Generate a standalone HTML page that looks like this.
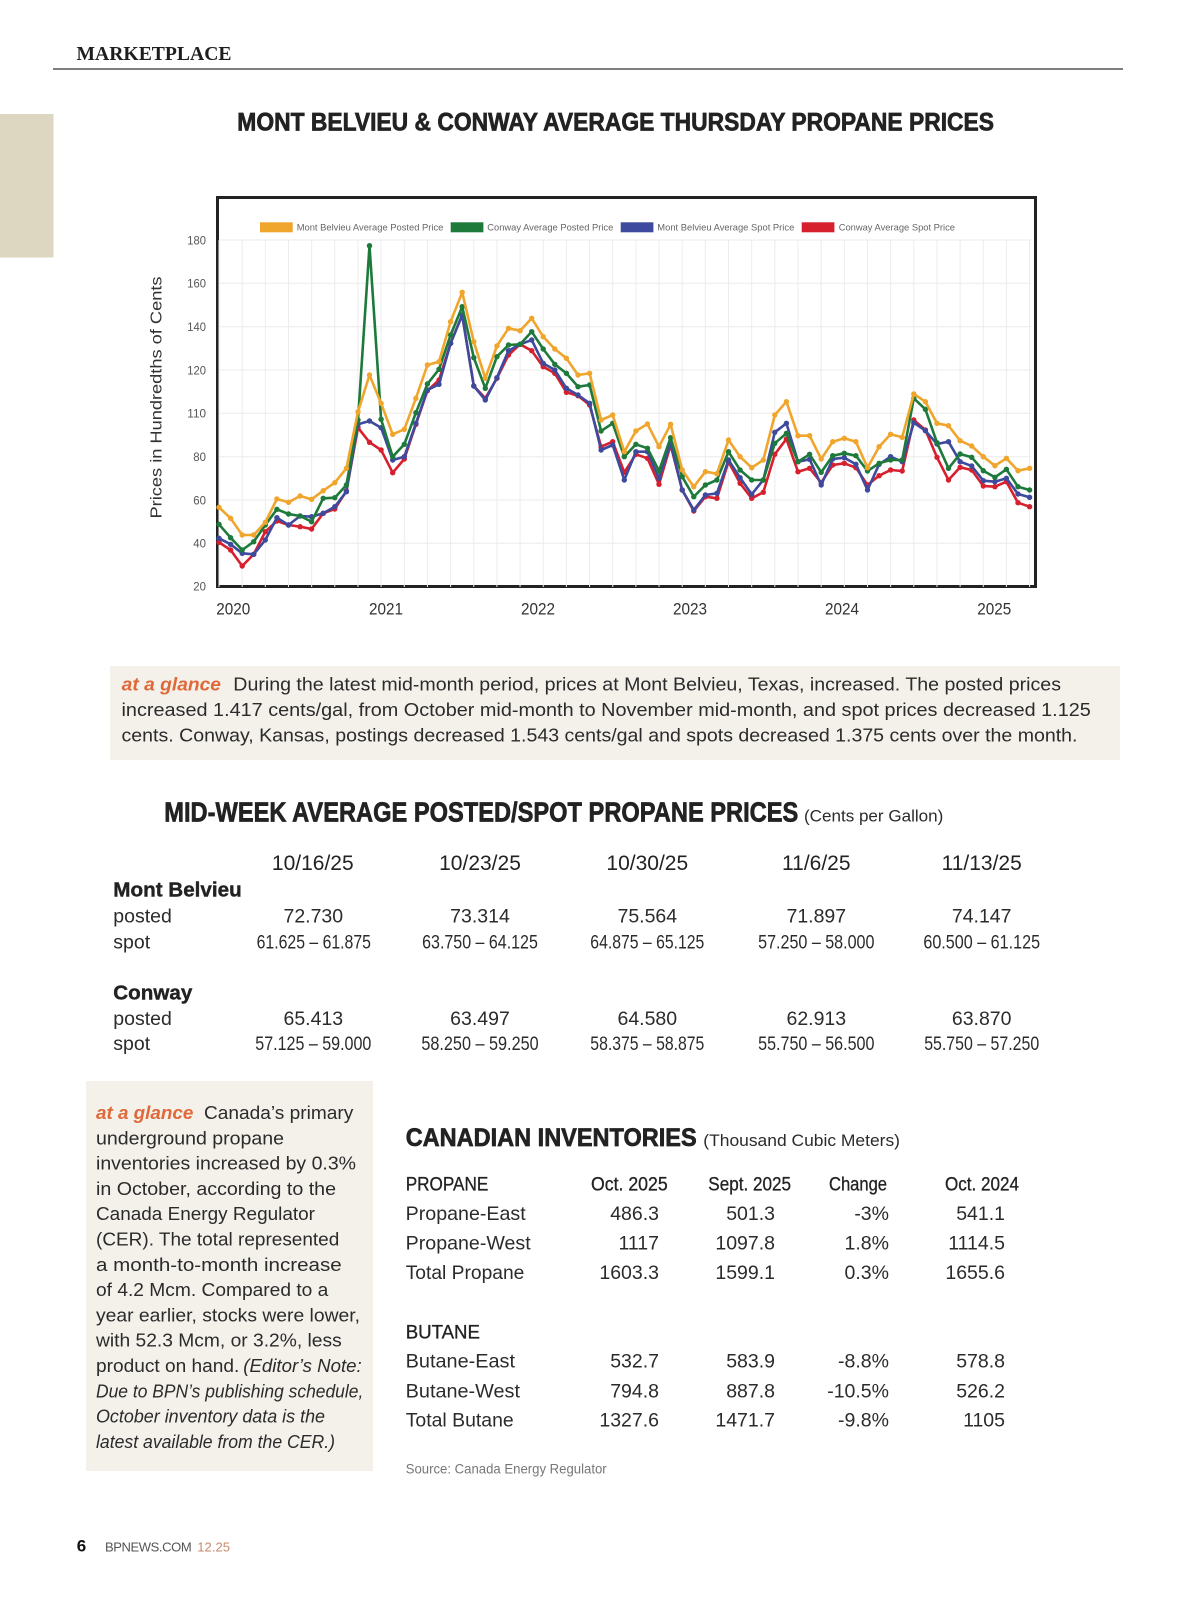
<!DOCTYPE html>
<html>
<head>
<meta charset="utf-8">
<style>
  html,body{margin:0;padding:0;background:#fff;}
  svg{display:block;}
  .s{font-family:"Liberation Sans",sans-serif;fill:#2b2b2b;}
  .b{font-family:"Liberation Sans",sans-serif;font-weight:bold;fill:#222;}
  .h{font-family:"Liberation Sans",sans-serif;font-weight:bold;fill:#222;stroke:#222;stroke-width:0.7;}
  .g{font-family:"Liberation Sans",sans-serif;font-weight:bold;font-style:italic;fill:#e0693a;}
  .i{font-family:"Liberation Sans",sans-serif;font-style:italic;fill:#2b2b2b;}
</style>
</head>
<body>
<svg width="1200" height="1598" viewBox="0 0 1200 1598" xmlns="http://www.w3.org/2000/svg">
  <defs>
    <marker id="mo" markerUnits="userSpaceOnUse" markerWidth="8" markerHeight="8" refX="4" refY="4"><circle cx="4" cy="4" r="2.7" fill="#f0a52c"/></marker>
    <marker id="mg" markerUnits="userSpaceOnUse" markerWidth="8" markerHeight="8" refX="4" refY="4"><circle cx="4" cy="4" r="2.7" fill="#1d7a3b"/></marker>
    <marker id="mb" markerUnits="userSpaceOnUse" markerWidth="8" markerHeight="8" refX="4" refY="4"><circle cx="4" cy="4" r="2.7" fill="#3d4a9e"/></marker>
    <marker id="mr" markerUnits="userSpaceOnUse" markerWidth="8" markerHeight="8" refX="4" refY="4"><circle cx="4" cy="4" r="2.7" fill="#d6202e"/></marker>
  </defs>
  <rect width="1200" height="1598" fill="#fff"/>

  <!-- Header -->
  <text x="76.5" y="60" font-family="'Liberation Serif',serif" font-weight="bold" font-size="19.5" fill="#1e1e1e" textLength="155" lengthAdjust="spacingAndGlyphs">MARKETPLACE</text>
  <line x1="53" y1="69" x2="1123" y2="69" stroke="#555" stroke-width="1.6"/>
  <rect x="0" y="114" width="53.5" height="143.5" fill="#ddd6c1"/>

  <!-- Chart title -->
  <text class="h" x="237.3" y="130.7" font-size="25" textLength="756.7" lengthAdjust="spacingAndGlyphs">MONT BELVIEU &amp; CONWAY AVERAGE THURSDAY PROPANE PRICES</text>

  <!-- Chart box -->
  <rect x="217.5" y="197.5" width="818" height="389" fill="#fff" stroke="#222" stroke-width="3"/>

  <!-- Grid -->
  <path d="M219 240V587M242.16 240V587M265.32 240V587M288.48 240V587M311.64 240V587M334.8 240V587M357.96 240V587M381.12 240V587M404.28 240V587M427.44 240V587M450.6 240V587M473.76 240V587M496.92 240V587M520.08 240V587M543.24 240V587M566.4 240V587M589.56 240V587M612.72 240V587M635.88 240V587M659.04 240V587M682.2 240V587M705.36 240V587M728.52 240V587M751.68 240V587M774.84 240V587M798 240V587M821.16 240V587M844.32 240V587M867.48 240V587M890.64 240V587M913.8 240V587M936.96 240V587M960.12 240V587M983.28 240V587M1006.44 240V587M1029.6 240V587" stroke="#ececec" stroke-width="1" fill="none"/>
  <path d="M219 240H1031M219 283.3H1031M219 326.7H1031M219 370H1031M219 413.3H1031M219 456.7H1031M219 500H1031M219 543.3H1031" stroke="#ebebeb" stroke-width="1" fill="none"/>

  <!-- Legend -->
  <rect x="260" y="222.3" width="32.7" height="10" fill="#f0a52c"/>
  <text x="296.7" y="230.6" font-family="'Liberation Sans',sans-serif" font-size="9.5" fill="#666" textLength="146.7" lengthAdjust="spacingAndGlyphs">Mont Belvieu Average Posted Price</text>
  <rect x="450.7" y="222.3" width="32.7" height="10" fill="#1d7a3b"/>
  <text x="487.3" y="230.6" font-family="'Liberation Sans',sans-serif" font-size="9.5" fill="#666" textLength="126" lengthAdjust="spacingAndGlyphs">Conway Average Posted Price</text>
  <rect x="620.7" y="222.3" width="32.7" height="10" fill="#3d4a9e"/>
  <text x="657.3" y="230.6" font-family="'Liberation Sans',sans-serif" font-size="9.5" fill="#666" textLength="137" lengthAdjust="spacingAndGlyphs">Mont Belvieu Average Spot Price</text>
  <rect x="801.7" y="222.3" width="32.7" height="10" fill="#d6202e"/>
  <text x="838.7" y="230.6" font-family="'Liberation Sans',sans-serif" font-size="9.5" fill="#666" textLength="116.3" lengthAdjust="spacingAndGlyphs">Conway Average Spot Price</text>

  <!-- Y tick labels -->
  <g font-family="'Liberation Sans',sans-serif" font-size="12" fill="#555" text-anchor="end">
    <text x="206" y="244.3" textLength="18.7" lengthAdjust="spacingAndGlyphs">180</text>
    <text x="206" y="287.6" textLength="18.7" lengthAdjust="spacingAndGlyphs">160</text>
    <text x="206" y="331" textLength="18.7" lengthAdjust="spacingAndGlyphs">140</text>
    <text x="206" y="374.3" textLength="18.7" lengthAdjust="spacingAndGlyphs">120</text>
    <text x="206" y="417.6" textLength="18.7" lengthAdjust="spacingAndGlyphs">110</text>
    <text x="206" y="461" textLength="12.7" lengthAdjust="spacingAndGlyphs">80</text>
    <text x="206" y="504.3" textLength="12.7" lengthAdjust="spacingAndGlyphs">60</text>
    <text x="206" y="547.6" textLength="12.7" lengthAdjust="spacingAndGlyphs">40</text>
    <text x="206" y="590.5" textLength="12.7" lengthAdjust="spacingAndGlyphs">20</text>
  </g>
  <!-- Y axis title -->
  <text transform="translate(161.5,397.5) rotate(-90)" text-anchor="middle" font-family="'Liberation Sans',sans-serif" font-size="16" fill="#333" textLength="242" lengthAdjust="spacingAndGlyphs">Prices in Hundredths of Cents</text>

  <!-- X labels -->
  <g font-family="'Liberation Sans',sans-serif" font-size="17" fill="#333" text-anchor="middle">
    <text x="233.3" y="614.3" textLength="34" lengthAdjust="spacingAndGlyphs">2020</text>
    <text x="386" y="614.3" textLength="34" lengthAdjust="spacingAndGlyphs">2021</text>
    <text x="538" y="614.3" textLength="34" lengthAdjust="spacingAndGlyphs">2022</text>
    <text x="690" y="614.3" textLength="34" lengthAdjust="spacingAndGlyphs">2023</text>
    <text x="842" y="614.3" textLength="34" lengthAdjust="spacingAndGlyphs">2024</text>
    <text x="994.3" y="614.3" textLength="34" lengthAdjust="spacingAndGlyphs">2025</text>
  </g>

  <!-- Series -->
  <g fill="none" stroke-width="2.6" stroke-linejoin="round" stroke-linecap="round">
    <polyline stroke="#d6202e" marker-start="url(#mr)" marker-mid="url(#mr)" marker-end="url(#mr)" points="219,542.3 230.6,550 242.2,566 253.7,554.3 265.3,531.7 276.9,521 288.5,525 300.1,526.7 311.6,529 323.2,513.3 334.8,509 346.4,491 358,427.7 369.5,442.3 381.1,450 392.7,472.7 404.3,459 415.9,424.3 427.4,390.7 439,380 450.6,343.3 462.2,315 473.8,386 485.3,398.3 496.9,378.3 508.5,355 520.1,344.3 531.7,350.7 543.2,366.7 554.8,373.3 566.4,392.3 578,395.7 589.6,405 601.1,446.7 612.7,441.7 624.3,472.3 635.9,454.3 647.5,458.3 659,484.3 670.6,445 682.2,490 693.8,511 705.4,496.7 716.9,498.3 728.5,461.7 740.1,483.3 751.7,498.3 763.3,492.3 774.8,454.3 786.4,439 798,471.7 809.6,468.3 821.2,482.7 832.7,465 844.3,463.3 855.9,467.7 867.5,485 879.1,475.7 890.6,470 902.2,471 913.8,420 925.4,430 937,457.3 948.5,480 960.1,467.3 971.7,470 983.3,486 994.9,486.7 1006.4,481.7 1018,502.7 1029.6,506.7"/>
    <polyline stroke="#3d4a9e" marker-start="url(#mb)" marker-mid="url(#mb)" marker-end="url(#mb)" points="219,538.3 230.6,544.3 242.2,553.3 253.7,554.3 265.3,540 276.9,517.7 288.5,525 300.1,516 311.6,516.7 323.2,513.3 334.8,506.7 346.4,491.7 358,424.3 369.5,421 381.1,427.7 392.7,460 404.3,456.7 415.9,423.3 427.4,390 439,384.3 450.6,343.3 462.2,315 473.8,386 485.3,400 496.9,377.7 508.5,350.7 520.1,344.3 531.7,340 543.2,363.3 554.8,370 566.4,388.3 578,395 589.6,403.3 601.1,450 612.7,445 624.3,480 635.9,451.7 647.5,451.7 659,478.3 670.6,443.3 682.2,490 693.8,510 705.4,495 716.9,493.3 728.5,460 740.1,477.7 751.7,494.3 763.3,480 774.8,432.3 786.4,423.3 798,461.7 809.6,459.3 821.2,485 832.7,459 844.3,457.7 855.9,464.3 867.5,490 879.1,464.3 890.6,456.7 902.2,461.7 913.8,422.7 925.4,430.7 937,444 948.5,441.7 960.1,461.7 971.7,466 983.3,480.7 994.9,481.7 1006.4,478.3 1018,494 1029.6,497.3"/>
    <polyline stroke="#1d7a3b" marker-start="url(#mg)" marker-mid="url(#mg)" marker-end="url(#mg)" points="219,524.3 230.6,537.7 242.2,550 253.7,541.7 265.3,525 276.9,509.3 288.5,514 300.1,516 311.6,521.7 323.2,498.3 334.8,497.7 346.4,485 358,420 369.5,245.7 381.1,419.3 392.7,456.7 404.3,444.3 415.9,412.7 427.4,384 439,369.3 450.6,335 462.2,306.7 473.8,357.7 485.3,388.3 496.9,356.7 508.5,345 520.1,344.3 531.7,331.7 543.2,349 554.8,364.3 566.4,373.3 578,386.7 589.6,385 601.1,431 612.7,423.3 624.3,456.7 635.9,444.3 647.5,448.3 659,471 670.6,437.7 682.2,476.7 693.8,496.7 705.4,485 716.9,480 728.5,451.7 740.1,470 751.7,480 763.3,480 774.8,443.3 786.4,433.3 798,461.7 809.6,454.3 821.2,472.3 832.7,455.7 844.3,453.3 855.9,455.7 867.5,471 879.1,463.3 890.6,460 902.2,460 913.8,398.3 925.4,409.3 937,442.7 948.5,468.3 960.1,454 971.7,457.3 983.3,470.7 994.9,477.3 1006.4,469.3 1018,486.7 1029.6,490"/>
    <polyline stroke="#f0a52c" marker-start="url(#mo)" marker-mid="url(#mo)" marker-end="url(#mo)" points="219,507.3 230.6,518.3 242.2,535 253.7,535 265.3,522.3 276.9,499 288.5,502.3 300.1,496 311.6,499.3 323.2,490.7 334.8,482.7 346.4,468.3 358,411.7 369.5,375 381.1,403.3 392.7,434.3 404.3,429.3 415.9,398.3 427.4,365 439,361.7 450.6,321.7 462.2,292.3 473.8,341.7 485.3,378.3 496.9,346 508.5,328.3 520.1,330.7 531.7,318.3 543.2,336.7 554.8,349 566.4,358.3 578,375 589.6,373.3 601.1,420 612.7,415 624.3,451.7 635.9,431 647.5,424 659,446.7 670.6,424.3 682.2,470 693.8,486.7 705.4,471.7 716.9,473.7 728.5,440 740.1,456.7 751.7,467.7 763.3,460 774.8,415 786.4,401.7 798,435.7 809.6,435.7 821.2,459 832.7,441.7 844.3,438.3 855.9,441.7 867.5,467.7 879.1,446.7 890.6,434.3 902.2,437.3 913.8,394 925.4,401.7 937,423.3 948.5,425.7 960.1,440.7 971.7,446 983.3,456.7 994.9,465.7 1006.4,458.3 1018,470.7 1029.6,468.3"/>
  </g>

  <!-- At a glance box 1 -->
  <rect x="110" y="666" width="1010" height="94" fill="#f4f1eb"/>
  <text class="g" x="121.7" y="690.7" font-size="18.5" textLength="99.3" lengthAdjust="spacingAndGlyphs">at a glance</text>
  <text class="s" x="233.3" y="690.7" font-size="18.5" textLength="827.7" lengthAdjust="spacingAndGlyphs">During the latest mid-month period, prices at Mont Belvieu, Texas, increased. The posted prices</text>
  <text class="s" x="121.5" y="716" font-size="18.5" textLength="969.3" lengthAdjust="spacingAndGlyphs">increased 1.417 cents/gal, from October mid-month to November mid-month, and spot prices decreased 1.125</text>
  <text class="s" x="121.5" y="741.7" font-size="18.5" textLength="956" lengthAdjust="spacingAndGlyphs">cents. Conway, Kansas, postings decreased 1.543 cents/gal and spots decreased 1.375 cents over the month.</text>

  <!-- Mid-week table -->
  <text class="h" x="164.3" y="821.7" font-size="28" textLength="634" lengthAdjust="spacingAndGlyphs">MID-WEEK AVERAGE POSTED/SPOT PROPANE PRICES</text>
  <text class="s" x="804" y="821.7" font-size="17" textLength="139.3" lengthAdjust="spacingAndGlyphs">(Cents per Gallon)</text>

  <g class="s" font-size="21" text-anchor="middle" style="fill:#222">
    <text x="312.8" y="870">10/16/25</text>
    <text x="480" y="870">10/23/25</text>
    <text x="647.3" y="870">10/30/25</text>
    <text x="816.3" y="870">11/6/25</text>
    <text x="981.7" y="870">11/13/25</text>
  </g>

  <text class="b" x="113.3" y="896.7" font-size="20.5" textLength="128.4" lengthAdjust="spacingAndGlyphs" stroke="#222" stroke-width="0.4">Mont Belvieu</text>
  <text class="s" x="113.3" y="922.7" font-size="19.5">posted</text>
  <text class="s" x="113.3" y="948.3" font-size="19.5">spot</text>
  <g class="s" font-size="19.5" text-anchor="middle">
    <text x="313.3" y="922.7">72.730</text>
    <text x="480" y="922.7">73.314</text>
    <text x="647.3" y="922.7">75.564</text>
    <text x="816.3" y="922.7">71.897</text>
    <text x="981.7" y="922.7">74.147</text>
    <text x="313.8" y="948.3" textLength="114.3" lengthAdjust="spacingAndGlyphs">61.625 – 61.875</text>
    <text x="480" y="948.3" textLength="115.7" lengthAdjust="spacingAndGlyphs">63.750 – 64.125</text>
    <text x="647.3" y="948.3" textLength="114" lengthAdjust="spacingAndGlyphs">64.875 – 65.125</text>
    <text x="816.3" y="948.3" textLength="116.3" lengthAdjust="spacingAndGlyphs">57.250 – 58.000</text>
    <text x="981.7" y="948.3" textLength="116.7" lengthAdjust="spacingAndGlyphs">60.500 – 61.125</text>
  </g>

  <text class="b" x="113.3" y="999.3" font-size="20.5" textLength="79" lengthAdjust="spacingAndGlyphs" stroke="#222" stroke-width="0.4">Conway</text>
  <text class="s" x="113.3" y="1025" font-size="19.5">posted</text>
  <text class="s" x="113.3" y="1050" font-size="19.5">spot</text>
  <g class="s" font-size="19.5" text-anchor="middle">
    <text x="313.3" y="1025">65.413</text>
    <text x="480" y="1025">63.497</text>
    <text x="647.3" y="1025">64.580</text>
    <text x="816.3" y="1025">62.913</text>
    <text x="981.7" y="1025">63.870</text>
    <text x="313.3" y="1050" textLength="116" lengthAdjust="spacingAndGlyphs">57.125 – 59.000</text>
    <text x="480" y="1050" textLength="117.3" lengthAdjust="spacingAndGlyphs">58.250 – 59.250</text>
    <text x="647.3" y="1050" textLength="114" lengthAdjust="spacingAndGlyphs">58.375 – 58.875</text>
    <text x="816.3" y="1050" textLength="116.3" lengthAdjust="spacingAndGlyphs">55.750 – 56.500</text>
    <text x="981.7" y="1050" textLength="115" lengthAdjust="spacingAndGlyphs">55.750 – 57.250</text>
  </g>

  <!-- At a glance box 2 -->
  <rect x="86" y="1081" width="287" height="390" fill="#f4f1eb"/>
  <g font-size="18">
    <text class="g" x="96" y="1119" textLength="97.3" lengthAdjust="spacingAndGlyphs">at a glance</text>
    <text class="s" x="204" y="1119" textLength="149.3" lengthAdjust="spacingAndGlyphs">Canada’s primary</text>
    <text class="s" x="96" y="1144.3" textLength="188" lengthAdjust="spacingAndGlyphs">underground propane</text>
    <text class="s" x="96" y="1169.6" textLength="260" lengthAdjust="spacingAndGlyphs">inventories increased by 0.3%</text>
    <text class="s" x="96" y="1194.9" textLength="240" lengthAdjust="spacingAndGlyphs">in October, according to the</text>
    <text class="s" x="96" y="1220.2" textLength="219" lengthAdjust="spacingAndGlyphs">Canada Energy Regulator</text>
    <text class="s" x="96" y="1245.5" textLength="243.3" lengthAdjust="spacingAndGlyphs">(CER). The total represented</text>
    <text class="s" x="96" y="1270.8" textLength="245.7" lengthAdjust="spacingAndGlyphs">a month-to-month increase</text>
    <text class="s" x="96" y="1296.1" textLength="232.3" lengthAdjust="spacingAndGlyphs">of 4.2 Mcm. Compared to a</text>
    <text class="s" x="96" y="1321.4" textLength="264" lengthAdjust="spacingAndGlyphs">year earlier, stocks were lower,</text>
    <text class="s" x="96" y="1346.7" textLength="245.7" lengthAdjust="spacingAndGlyphs">with 52.3 Mcm, or 3.2%, less</text>
    <text class="s" x="96" y="1372" textLength="143.3" lengthAdjust="spacingAndGlyphs">product on hand.</text>
    <text class="i" x="243.3" y="1372" textLength="118.4" lengthAdjust="spacingAndGlyphs">(Editor’s Note:</text>
    <text class="i" x="96" y="1397.3" textLength="267.3" lengthAdjust="spacingAndGlyphs">Due to BPN’s publishing schedule,</text>
    <text class="i" x="96" y="1422.6" textLength="229" lengthAdjust="spacingAndGlyphs">October inventory data is the</text>
    <text class="i" x="96" y="1447.9" textLength="239" lengthAdjust="spacingAndGlyphs">latest available from the CER.)</text>
  </g>

  <!-- Canadian inventories -->
  <text class="h" x="405.7" y="1146" font-size="25" textLength="291" lengthAdjust="spacingAndGlyphs">CANADIAN INVENTORIES</text>
  <text class="s" x="703.3" y="1146" font-size="17" textLength="196.7" lengthAdjust="spacingAndGlyphs">(Thousand Cubic Meters)</text>

  <g class="s" font-size="19" style="fill:#222">
    <text x="405.7" y="1190.7" textLength="82.6" lengthAdjust="spacingAndGlyphs" stroke="#222" stroke-width="0.3">PROPANE</text>
    <text x="591" y="1190.7" textLength="76.7" lengthAdjust="spacingAndGlyphs" stroke="#222" stroke-width="0.3">Oct.  2025</text>
    <text x="708.3" y="1190.7" textLength="82.7" lengthAdjust="spacingAndGlyphs" stroke="#222" stroke-width="0.3">Sept. 2025</text>
    <text x="829" y="1190.7" textLength="58" lengthAdjust="spacingAndGlyphs" stroke="#222" stroke-width="0.3">Change</text>
    <text x="945" y="1190.7" textLength="74" lengthAdjust="spacingAndGlyphs" stroke="#222" stroke-width="0.3">Oct. 2024</text>
    <text x="405.7" y="1338.3" textLength="74.3" lengthAdjust="spacingAndGlyphs" stroke="#222" stroke-width="0.3">BUTANE</text>
  </g>
  <g class="s" font-size="19.5">
    <text x="405.7" y="1220" textLength="120" lengthAdjust="spacingAndGlyphs">Propane-East</text>
    <text x="405.7" y="1249.3" textLength="125" lengthAdjust="spacingAndGlyphs">Propane-West</text>
    <text x="405.7" y="1279" textLength="118.7" lengthAdjust="spacingAndGlyphs">Total Propane</text>
    <text x="405.7" y="1367.7" textLength="109.3" lengthAdjust="spacingAndGlyphs">Butane-East</text>
    <text x="405.7" y="1397.3" textLength="114.3" lengthAdjust="spacingAndGlyphs">Butane-West</text>
    <text x="405.7" y="1426.7" textLength="108" lengthAdjust="spacingAndGlyphs">Total Butane</text>
  </g>
  <g class="s" font-size="19.5" text-anchor="end">
    <text x="659" y="1220">486.3</text>
    <text x="659" y="1249.3">1117</text>
    <text x="659" y="1279">1603.3</text>
    <text x="659" y="1367.7">532.7</text>
    <text x="659" y="1397.3">794.8</text>
    <text x="659" y="1426.7">1327.6</text>

    <text x="775" y="1220">501.3</text>
    <text x="775" y="1249.3">1097.8</text>
    <text x="775" y="1279">1599.1</text>
    <text x="775" y="1367.7">583.9</text>
    <text x="775" y="1397.3">887.8</text>
    <text x="775" y="1426.7">1471.7</text>

    <text x="889" y="1220">-3%</text>
    <text x="889" y="1249.3">1.8%</text>
    <text x="889" y="1279">0.3%</text>
    <text x="889" y="1367.7">-8.8%</text>
    <text x="889" y="1397.3">-10.5%</text>
    <text x="889" y="1426.7">-9.8%</text>

    <text x="1005" y="1220">541.1</text>
    <text x="1005" y="1249.3">1114.5</text>
    <text x="1005" y="1279">1655.6</text>
    <text x="1005" y="1367.7">578.8</text>
    <text x="1005" y="1397.3">526.2</text>
    <text x="1005" y="1426.7">1105</text>
  </g>
  <text x="405.7" y="1473.3" font-family="'Liberation Sans',sans-serif" font-size="14" fill="#777" textLength="201" lengthAdjust="spacingAndGlyphs">Source: Canada Energy Regulator</text>

  <!-- Footer -->
  <text class="b" x="76.7" y="1551.7" font-size="17" style="fill:#111">6</text>
  <text x="105" y="1551.7" font-family="'Liberation Sans',sans-serif" font-size="13" fill="#555" textLength="86.7" lengthAdjust="spacing">BPNEWS.COM</text>
  <text x="197.3" y="1551.7" font-family="'Liberation Sans',sans-serif" font-size="13" fill="#c48a6a" textLength="32.7" lengthAdjust="spacingAndGlyphs">12.25</text>
</svg>
</body>
</html>
